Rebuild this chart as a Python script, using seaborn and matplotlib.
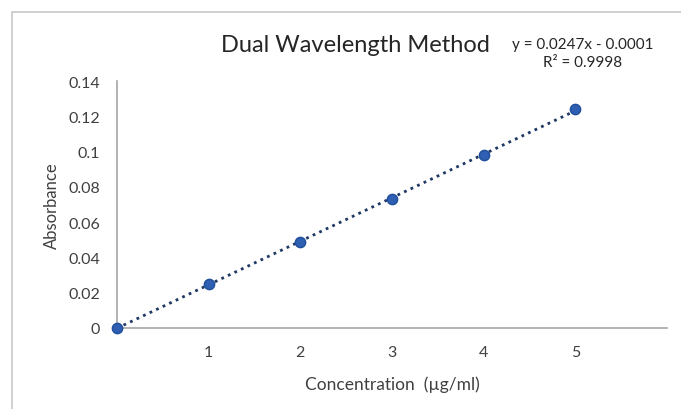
import numpy as np
import pandas as pd
import matplotlib
matplotlib.use("Agg")
import matplotlib.pyplot as plt
import seaborn as sns
from matplotlib.patches import Rectangle

concentration = [0, 1, 2, 3, 4, 5]
absorbance = [0.0, 0.025, 0.049, 0.073, 0.098, 0.124]
x_ticks = [0, 1, 2, 3, 4, 5]
x_tick_labels = ["", "1", "2", "3", "4", "5"]
y_ticks = [0, 0.02, 0.04, 0.06, 0.08, 0.1, 0.12, 0.14]
y_tick_labels = ["0", "0.02", "0.04", "0.06", "0.08", "0.1", "0.12", "0.14"]

sns.set_theme(style="white")
plt.rcParams["font.family"] = ["Lato", "DejaVu Sans"]

df = pd.DataFrame({"Concentration": concentration, "Absorbance": absorbance})

fig = plt.figure(figsize=(6.81, 4.10), dpi=100)
ax = fig.add_axes([117/681, 1-329/410, (667-117)/681, (329-82)/410])

# trendline (linear fit)
slope, intercept = np.polyfit(concentration, absorbance, 1)
xs = np.array([concentration[0], concentration[-1]])
ax.plot(xs, slope*xs + intercept, linestyle=(0, (1, 1.6)), color="#1F3864", lw=2, zorder=2)

sns.scatterplot(data=df, x="Concentration", y="Absorbance", ax=ax, s=55,
                color="#2F5FB3", edgecolor="#1F4E9A", linewidth=1.0, zorder=3, clip_on=False)

ax.set_xlim(0, 6)
ax.set_ylim(0, 0.14)
ax.set_xticks(x_ticks)
ax.set_xticklabels(x_tick_labels)
ax.set_yticks(y_ticks)
ax.set_yticklabels(y_tick_labels)
ax.tick_params(axis="both", length=0, labelsize=11.5, colors="#404040")
ax.tick_params(axis="x", pad=12)
ax.tick_params(axis="y", pad=12)
for s in ["top", "right"]:
    ax.spines[s].set_visible(False)
for s in ["left", "bottom"]:
    ax.spines[s].set_color("#A6A6A6")
    ax.spines[s].set_linewidth(1.2)

ax.set_xlabel("Concentration  (µg/ml)", fontsize=12.5, color="#404040", labelpad=12)
ax.set_ylabel("Absorbance", fontsize=12, color="#404040", labelpad=6)

fig.text(355/681, 1-45/410, "Dual Wavelength Method", ha="center", va="center",
         fontsize=17, color="#262626")
fig.text(583/681, 1-45/410, "y = 0.0247x - 0.0001", ha="center", va="center",
         fontsize=11, color="#262626")
fig.text(583/681, 1-63/410, "R² = 0.9998", ha="center", va="center",
         fontsize=11, color="#262626")

fig.patches.append(Rectangle((11.5/681, -0.1), 1.2, 1.1 - 12.5/410 + 0.0,
                             transform=fig.transFigure, fill=False,
                             edgecolor="#C8C8C8", linewidth=1.2))

fig.savefig("out.png", dpi=100)
